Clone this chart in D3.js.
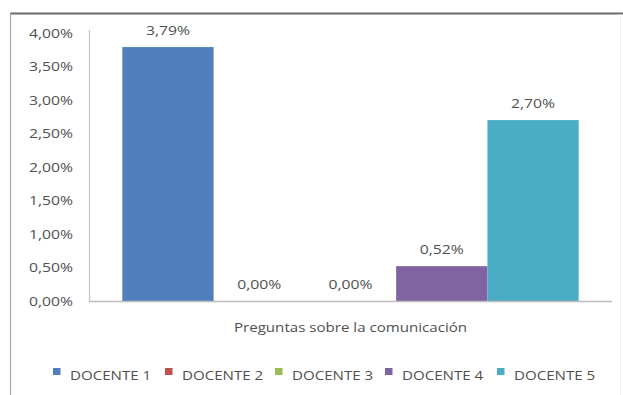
<!DOCTYPE html>
<html>
<head>
<meta charset="utf-8">
<script src="https://cdn.jsdelivr.net/npm/d3@7"></script>
<style>
  html, body { margin: 0; padding: 0; background: #fff; }
  svg { display: block; }
  text { font-family: "Open Sans", "Noto Sans", sans-serif; fill: #505050; }
</style>
</head>
<body>
<svg id="chart" width="623" height="395"></svg>
<script>
// Chart data
const category = "Preguntas sobre la comunicación";
const seriesNames = ["DOCENTE 1", "DOCENTE 2", "DOCENTE 3", "DOCENTE 4", "DOCENTE 5"];
const seriesValues = [3.79, 0.00, 0.00, 0.52, 2.70];
const seriesColors = ["#4f7fbd", "#c0504d", "#9bbb59", "#8064a2", "#4bacc6"];
const yTicks = [0, 0.5, 1, 1.5, 2, 2.5, 3, 3.5, 4];

const svg = d3.select("#chart");
const W = 623, H = 395;
const plot = { left: 89, right: 612, top: 33, bottom: 301 };
const SX = 1.26; // horizontal stretch of the text glyphs

const fmt = v => d3.format(".2f")(v).replace(".", ",") + "%";

// Places a horizontally stretched text label
function label(x, y, str, anchor, size, weight) {
  return svg.append("text")
    .attr("transform", `translate(${x},${y}) scale(${SX},1)`)
    .attr("text-anchor", anchor)
    .style("font-size", size + "px")
    .style("font-weight", weight || 400)
    .text(str);
}

// Frame
svg.append("line").attr("x1", 10).attr("x2", W).attr("y1", 13.5).attr("y2", 13.5)
  .attr("stroke", "#6b6b6b").attr("stroke-width", 2.2);
svg.append("line").attr("x1", 10.5).attr("x2", 10.5).attr("y1", 13).attr("y2", H)
  .attr("stroke", "#a8a8a8").attr("stroke-width", 1.2);
svg.append("line").attr("x1", 620.5).attr("x2", 620.5).attr("y1", 14).attr("y2", H)
  .attr("stroke", "#f0f0f0").attr("stroke-width", 1);

// Scales
const y = d3.scaleLinear().domain([0, 4]).range([plot.bottom, plot.top]);
const xCat = d3.scaleBand().domain([category]).range([plot.left, plot.right]).paddingOuter(0.073).paddingInner(0);
const xSer = d3.scaleBand().domain(seriesNames).range([0, xCat.bandwidth()]).padding(0);

// Y axis line and tick labels
svg.append("line").attr("x1", plot.left + 0.5).attr("x2", plot.left + 0.5)
  .attr("y1", y(4) - 3).attr("y2", plot.bottom)
  .attr("stroke", "#c4c4c4").attr("stroke-width", 1.2);
yTicks.forEach(t => {
  label(73, y(t) + 4.5, fmt(t), "end", 12.5);
});

// Bars
const g = svg.append("g").attr("transform", `translate(${xCat(category)},0)`);
g.selectAll("rect").data(seriesValues).join("rect")
  .attr("x", (d, i) => xSer(seriesNames[i]))
  .attr("y", d => y(d))
  .attr("width", xSer.bandwidth())
  .attr("height", d => plot.bottom - y(d))
  .attr("fill", (d, i) => seriesColors[i]);

// Baseline
svg.append("line").attr("x1", plot.left).attr("x2", plot.right)
  .attr("y1", plot.bottom + 0.5).attr("y2", plot.bottom + 0.5)
  .attr("stroke", "#bdbdbd").attr("stroke-width", 1.6);

// Value labels
seriesValues.forEach((v, i) => {
  const cx = xCat(category) + xSer(seriesNames[i]) + xSer.bandwidth() / 2;
  label(cx, y(v) - 12, fmt(v), "middle", 12.5);
});

// Category axis title
label((plot.left + plot.right) / 2, 332, category, "middle", 12);

// Legend
const legendX = [53, 165, 275, 385, 497];
seriesNames.forEach((name, i) => {
  svg.append("rect").attr("x", legendX[i]).attr("y", 368).attr("width", 7.5).attr("height", 7)
    .attr("fill", seriesColors[i]);
  label(legendX[i] + 17, 380, name, "start", 12);
});
</script>
</body>
</html>
